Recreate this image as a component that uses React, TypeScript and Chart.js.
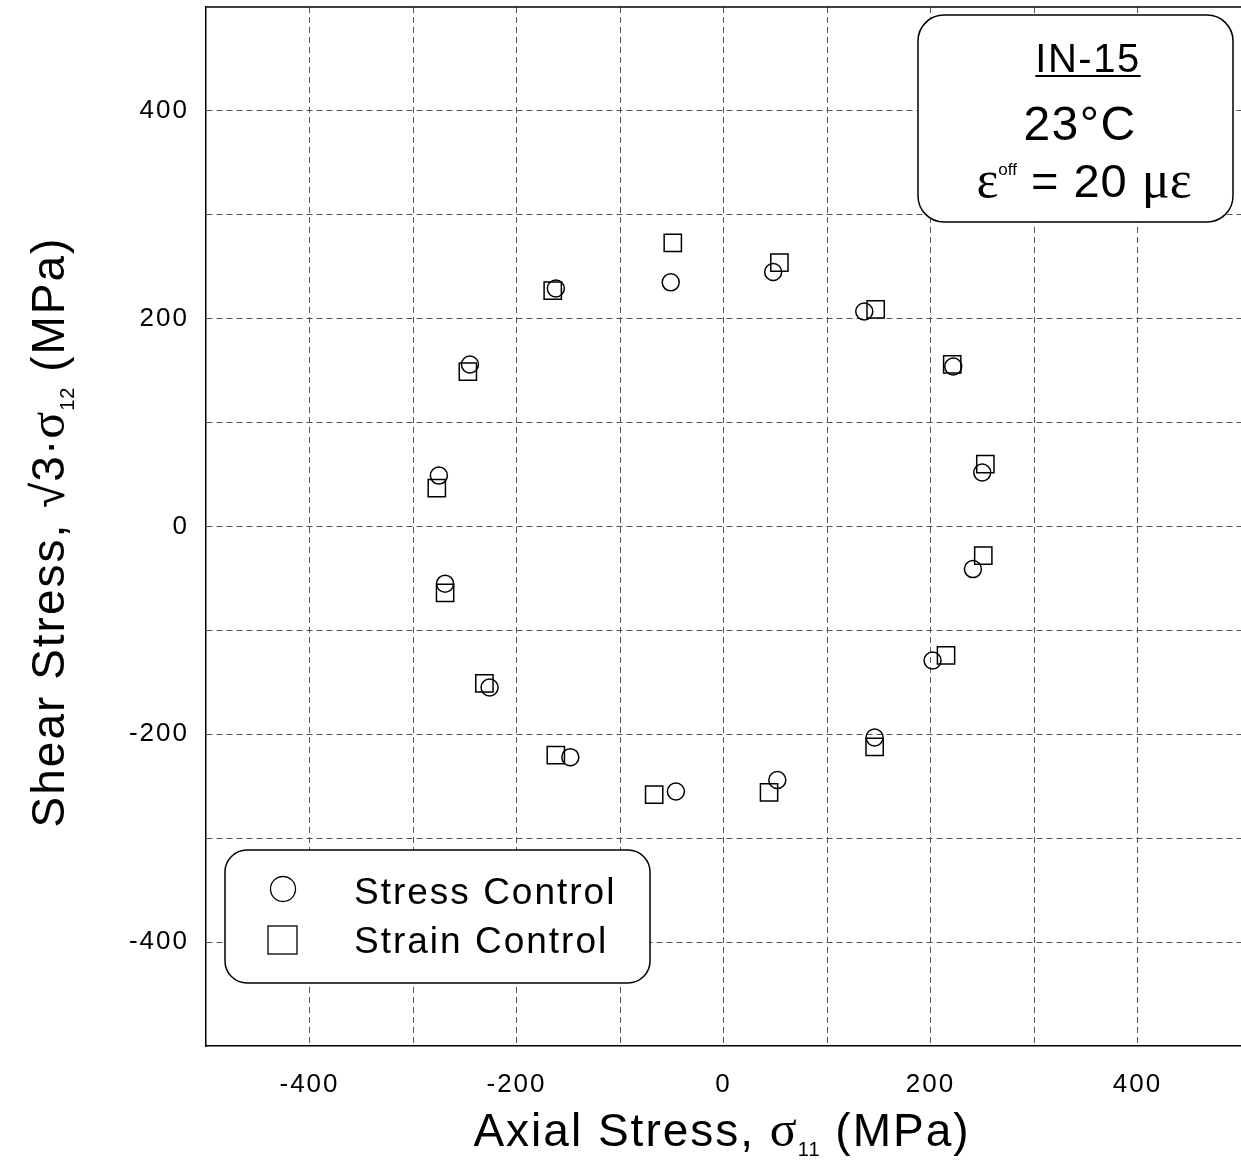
import React, { useEffect, useRef } from 'react';
import { Chart, registerables } from 'chart.js';

Chart.register(...registerables);

// Stress Control (circles)
const stressX = [-245, -162, -51, 48, 136, 222, 250, 241, 202, 146, 52, -46, -148, -226, -269, -275];
const stressY = [156, 229, 235, 245, 207, 154, 52, -41, -129, -203, -244, -255, -222, -155, -55, 49];
// Strain Control (squares)
const strainX = [-247, -165, -49, 54, 147, 221, 253, 251, 215, 146, 44, -67, -162, -231, -269, -277];
const strainY = [149, 227, 273, 254, 209, 156, 60, -28, -124, -212, -256, -258, -220, -151, -64, 37];

const seriesLabels = ['Stress Control', 'Strain Control'];
const xTickLabels = [-400, -200, 0, 200, 400];
const yTickLabels = [-400, -200, 0, 200, 400];
const axisMin = -500;
const axisMax = 500;
const gridStep = 100;
const infoTitle = 'IN-15';
const infoTemp = '23°C';

const SANS = '"Liberation Sans", Arial, sans-serif';
const SERIF = '"Liberation Serif", "Times New Roman", serif';

type Seg = { t: string; font: string; dy?: number; ls?: number };

function segWidth(ctx: CanvasRenderingContext2D, s: Seg) {
  ctx.font = s.font;
  (ctx as any).letterSpacing = (s.ls ?? 0) + 'px';
  return ctx.measureText(s.t).width;
}

function drawRich(ctx: CanvasRenderingContext2D, segs: Seg[], x: number, y: number, align: 'left' | 'center') {
  const total = segs.reduce((a, s) => a + segWidth(ctx, s), 0);
  let cx = align === 'center' ? x - total / 2 : x;
  ctx.textAlign = 'left';
  ctx.textBaseline = 'alphabetic';
  for (const s of segs) {
    const w = segWidth(ctx, s);
    ctx.fillText(s.t, cx, y + (s.dy ?? 0));
    cx += w;
  }
  return total;
}

function roundRect(ctx: CanvasRenderingContext2D, x: number, y: number, w: number, h: number, r: number) {
  ctx.beginPath();
  ctx.moveTo(x + r, y);
  ctx.lineTo(x + w - r, y);
  ctx.arcTo(x + w, y, x + w, y + r, r);
  ctx.lineTo(x + w, y + h - r);
  ctx.arcTo(x + w, y + h, x + w - r, y + h, r);
  ctx.lineTo(x + r, y + h);
  ctx.arcTo(x, y + h, x, y + h - r, r);
  ctx.lineTo(x, y + r);
  ctx.arcTo(x, y, x + r, y, r);
  ctx.closePath();
}

const decorPlugin = {
  id: 'decor',
  beforeDraw(chart: any) {
    const ctx = chart.ctx as any;
    ctx.letterSpacing = '2px';
  },
  afterDatasetsDraw(chart: any) {
    const ctx: CanvasRenderingContext2D = chart.ctx;
    const { left, right, top } = chart.chartArea;
    ctx.save();
    // top frame line
    ctx.strokeStyle = '#000';
    ctx.lineWidth = 1.5;
    ctx.beginPath();
    ctx.moveTo(left, top);
    ctx.lineTo(right, top);
    ctx.stroke();

    // info box
    roundRect(ctx, 918, 15, 315, 207, 26);
    ctx.fillStyle = '#fff';
    ctx.fill();
    ctx.lineWidth = 1.5;
    ctx.strokeStyle = '#000';
    ctx.stroke();
    ctx.fillStyle = '#000';
    const w1 = drawRich(ctx, [{ t: infoTitle, font: `40px ${SANS}`, ls: 1.5 }], 1088, 72, 'center');
    ctx.lineWidth = 2.2;
    ctx.beginPath();
    ctx.moveTo(1088 - w1 / 2, 76);
    ctx.lineTo(1088 + w1 / 2, 76);
    ctx.stroke();
    drawRich(ctx, [{ t: infoTemp, font: `48px ${SANS}`, ls: 1.5 }], 1080, 140, 'center');
    drawRich(
      ctx,
      [
        { t: 'ε', font: `52px ${SERIF}` },
        { t: 'off', font: `17px ${SANS}`, dy: -22 },
        { t: ' = 20 ', font: `47px ${SANS}`, ls: 1 },
        { t: 'με', font: `52px ${SERIF}` },
      ],
      1084,
      197,
      'center'
    );

    // legend box
    roundRect(ctx, 225, 850, 425, 133, 22);
    ctx.fillStyle = '#fff';
    ctx.fill();
    ctx.lineWidth = 1.5;
    ctx.strokeStyle = '#000';
    ctx.stroke();
    ctx.lineWidth = 1.3;
    ctx.beginPath();
    ctx.arc(283, 889, 12.5, 0, Math.PI * 2);
    ctx.stroke();
    ctx.strokeRect(268, 926, 29, 28);
    ctx.fillStyle = '#000';
    drawRich(ctx, [{ t: chart.data.datasets[0].label, font: `37px ${SANS}`, ls: 2 }], 354, 904, 'left');
    drawRich(ctx, [{ t: chart.data.datasets[1].label, font: `37px ${SANS}`, ls: 2 }], 354, 953, 'left');

    // x title
    drawRich(
      ctx,
      [
        { t: 'Axial Stress, ', font: `46px ${SANS}`, ls: 2 },
        { t: 'σ', font: `50px ${SERIF}`, ls: 1 },
        { t: '11', font: `20px ${SANS}`, dy: 10, ls: 1 },
        { t: ' (MPa)', font: `46px ${SANS}`, ls: 2 },
      ],
      722,
      1146,
      'center'
    );

    // y title
    ctx.save();
    ctx.translate(64, 532);
    ctx.rotate(-Math.PI / 2);
    drawRich(
      ctx,
      [
        { t: 'Shear Stress, ', font: `46px ${SANS}`, ls: 2 },
        { t: '√3·', font: `46px ${SANS}`, ls: 1 },
        { t: 'σ', font: `50px ${SERIF}`, ls: 1 },
        { t: '12', font: `20px ${SANS}`, dy: 10, ls: 1 },
        { t: ' (MPa)', font: `46px ${SANS}`, ls: 2 },
      ],
      0,
      0,
      'center'
    );
    ctx.restore();
    ctx.restore();
    (ctx as any).letterSpacing = '2px';
  },
};

const zeroPad = (s: any) => {
  s.paddingTop = 0;
  s.paddingBottom = 0;
  s.paddingLeft = 0;
  s.paddingRight = 0;
};

export default function App() {
  const ref = useRef<HTMLCanvasElement>(null);
  useEffect(() => {
    document.body.style.margin = '0';
    const stressData = stressX.map((x, i) => ({ x, y: stressY[i] }));
    const strainData = strainX.map((x, i) => ({ x, y: strainY[i] }));
    const gridColor = (ctx: any) =>
      ctx.tick && (ctx.tick.value === axisMax || ctx.tick.value === axisMin) ? 'rgba(0,0,0,0)' : '#555';
    const chart = new Chart(ref.current!, {
      type: 'scatter',
      data: {
        datasets: [
          {
            label: seriesLabels[0],
            data: stressData,
            pointStyle: 'circle',
            pointRadius: 8.5,
            pointHoverRadius: 8.5,
            borderColor: '#000',
            backgroundColor: 'rgba(0,0,0,0)',
            pointBorderWidth: 1.5,
          },
          {
            label: seriesLabels[1],
            data: strainData,
            pointStyle: 'rect',
            pointRadius: 12.2,
            pointHoverRadius: 12.2,
            borderColor: '#000',
            backgroundColor: 'rgba(0,0,0,0)',
            pointBorderWidth: 1.5,
          },
        ],
      },
      options: {
        responsive: false,
        animation: false,
        devicePixelRatio: 1,
        layout: { autoPadding: false, padding: { left: 0, top: 7, right: 0, bottom: 0 } },
        plugins: { legend: { display: false }, tooltip: { enabled: false }, title: { display: false } },
        events: [],
        scales: {
          x: {
            type: 'linear',
            min: axisMin,
            max: axisMax,
            afterFit: (s: any) => {
              s.height = 120;
              zeroPad(s);
            },
            ticks: {
              stepSize: gridStep,
              autoSkip: false,
              maxRotation: 0,
              padding: 23,
              color: '#000',
              font: { family: SANS, size: 26 },
              callback: (v: any) => (xTickLabels.includes(Number(v)) ? String(v) : ''),
            },
            grid: { color: gridColor, lineWidth: 1, drawTicks: false },
            border: { display: true, color: '#000', width: 1.5, dash: [6, 4] },
          },
          y: {
            type: 'linear',
            min: axisMin,
            max: axisMax,
            afterFit: (s: any) => {
              s.width = 206;
              zeroPad(s);
            },
            ticks: {
              stepSize: gridStep,
              autoSkip: false,
              padding: 17,
              color: '#000',
              font: { family: SANS, size: 26 },
              callback: (v: any) => (yTickLabels.includes(Number(v)) ? String(v) : ''),
            },
            grid: { color: gridColor, lineWidth: 1, drawTicks: false },
            border: { display: true, color: '#000', width: 1.5, dash: [6, 4] },
          },
        },
      },
      plugins: [decorPlugin],
    } as any);
    return () => chart.destroy();
  }, []);
  return (
    <div style={{ position: 'absolute', left: 0, top: 0, width: 1241, height: 1166, overflow: 'hidden', background: '#fff' }}>
      <canvas ref={ref} width={1241} height={1166} style={{ width: 1241, height: 1166, display: 'block' }} />
    </div>
  );
}
